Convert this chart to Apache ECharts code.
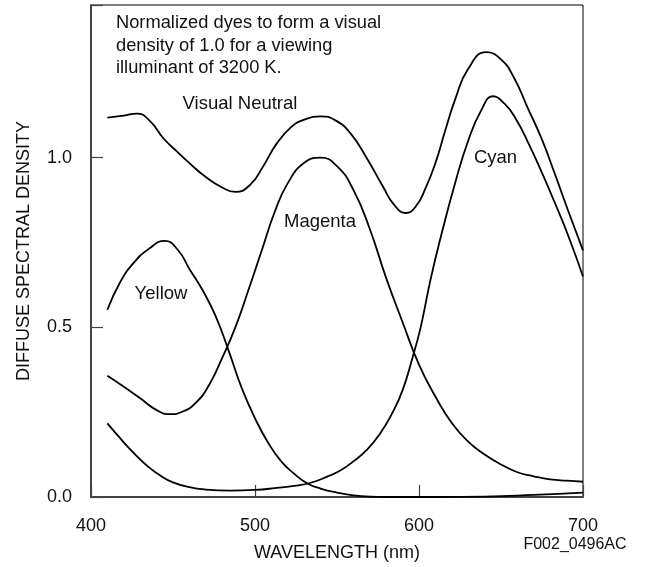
<!DOCTYPE html>
<html>
<head>
<meta charset="utf-8">
<script src="https://cdn.jsdelivr.net/npm/echarts@6/dist/echarts.min.js"></script>
<style>
html,body{margin:0;padding:0;background:#fff;}
#chart{width:646px;height:567px;}
</style>
</head>
<body>
<div id="chart"></div>
<script>
// ---- Data (wavelength in nm, diffuse spectral density) ----
var xTicks = [400, 500, 600, 700];
var yTicks = [0.0, 0.5, 1.0];

var neutralNm  = [410, 420, 428, 436, 444, 452, 460, 470, 480, 488, 497, 505, 513, 522, 530, 540, 549, 558, 568, 578, 585, 592, 598, 604, 610, 616, 622, 630, 641, 650, 658, 666, 675, 683, 691, 700];
var neutralVal = [1.118, 1.124, 1.13, 1.108, 1.058, 1.02, 0.984, 0.943, 0.912, 0.899, 0.92, 0.975, 1.04, 1.09, 1.112, 1.122, 1.11, 1.073, 1.0, 0.915, 0.86, 0.837, 0.856, 0.91, 0.984, 1.08, 1.171, 1.262, 1.311, 1.29, 1.235, 1.15, 1.053, 0.95, 0.843, 0.727];

var magentaNm  = [410, 420, 430, 440, 448, 456, 464, 472, 480, 488, 496, 504, 512, 520, 530, 540, 550, 560, 570, 580, 590, 600, 610, 620, 630, 640, 650, 660, 670, 680, 690, 700];
var magentaVal = [0.357, 0.325, 0.291, 0.256, 0.244, 0.252, 0.278, 0.33, 0.41, 0.5, 0.61, 0.725, 0.84, 0.925, 0.985, 1.0, 0.975, 0.905, 0.79, 0.645, 0.515, 0.39, 0.296, 0.218, 0.163, 0.125, 0.096, 0.073, 0.061, 0.052, 0.048, 0.045];

var yellowNm  = [410, 418, 426, 435, 445, 453, 460, 468, 476, 484, 492, 500, 508, 516, 524, 532, 540, 550, 560, 570, 580, 610, 640, 670, 700];
var yellowVal = [0.552, 0.635, 0.69, 0.73, 0.755, 0.728, 0.672, 0.61, 0.533, 0.43, 0.32, 0.232, 0.16, 0.105, 0.068, 0.04, 0.025, 0.013, 0.005, 0.001, 0.0, 0.0, 0.001, 0.006, 0.013];

var cyanNm  = [410, 418, 426, 434, 442, 450, 460, 470, 485, 500, 512, 524, 534, 544, 552, 560, 568, 576, 584, 590, 596, 601, 607, 614, 622, 630, 638, 645, 652, 659, 667, 675, 683, 691, 700];
var cyanVal = [0.217, 0.172, 0.13, 0.093, 0.064, 0.043, 0.029, 0.022, 0.019, 0.021, 0.026, 0.033, 0.042, 0.06, 0.078, 0.105, 0.138, 0.185, 0.25, 0.315, 0.41, 0.5, 0.64, 0.78, 0.925, 1.05, 1.14, 1.181, 1.16, 1.115, 1.04, 0.955, 0.865, 0.77, 0.65];

var noteText = 'Normalized dyes to form a visual\ndensity of 1.0 for a viewing\nilluminant of 3200 K.';
var curveLabels = ['Visual Neutral', 'Magenta', 'Cyan', 'Yellow'];
var figureId = 'F002_0496AC';
var xName = 'WAVELENGTH (nm)';
var yName = 'DIFFUSE SPECTRAL DENSITY';

function pairs(xs, ys) { return xs.map(function (x, i) { return [x, ys[i]]; }); }

var FONT = '"Liberation Sans", Arial, Helvetica, sans-serif';
var chart = echarts.init(document.getElementById('chart'));

function lineSeries(name, xs, ys) {
  return {
    name: name, type: 'line', data: pairs(xs, ys), showSymbol: false, symbol: 'none',
    smooth: 0.5, lineStyle: { color: '#000', width: 1.8 }, silent: true
  };
}

var option = {
  backgroundColor: '#fff',
  animation: false,
  grid: { left: 91, right: 63, top: 5, bottom: 70, show: true, borderColor: '#000', borderWidth: 1 },
  xAxis: {
    type: 'value', min: 400, max: 700, interval: 100,
    name: xName, nameLocation: 'middle', nameGap: 47,
    nameTextStyle: { fontFamily: FONT, fontSize: 18, color: '#111' },
    axisLine: { show: true, lineStyle: { color: '#444', width: 2 } },
    axisTick: { show: true, inside: true, length: 12, lineStyle: { color: '#444', width: 1.2 } },
    axisLabel: { margin: 20, fontFamily: FONT, fontSize: 18, color: '#111',
      formatter: function (v) { return xTicks.indexOf(v) >= 0 ? String(v) : ''; } },
    splitLine: { show: false }
  },
  yAxis: {
    type: 'value', min: 0, max: 1.45, interval: 0.5,
    name: yName, nameLocation: 'middle', nameGap: 58, nameRotate: 90,
    nameTextStyle: { fontFamily: FONT, fontSize: 18, color: '#111' },
    axisLine: { show: true, lineStyle: { color: '#444', width: 2 } },
    axisTick: { show: true, inside: true, length: 12, lineStyle: { color: '#444', width: 1.2 } },
    axisLabel: { margin: 19, fontFamily: FONT, fontSize: 18, color: '#111',
      formatter: function (v) {
        for (var i = 0; i < yTicks.length; i++) { if (Math.abs(v - yTicks[i]) < 1e-6) return yTicks[i].toFixed(1); }
        return '';
      } },
    splitLine: { show: false }
  },
  series: [
    lineSeries('Visual Neutral', neutralNm, neutralVal),
    lineSeries('Magenta', magentaNm, magentaVal),
    lineSeries('Yellow', yellowNm, yellowVal),
    lineSeries('Cyan', cyanNm, cyanVal)
  ],
  graphic: [
    { type: 'text', left: 116, top: 12, style: { text: noteText, font: '18.3px ' + FONT, fill: '#111', lineHeight: 22.5 } },
    { type: 'text', x: 240, y: 104, style: { text: curveLabels[0], font: '18.5px ' + FONT, fill: '#111', align: 'center', verticalAlign: 'middle' } },
    { type: 'text', x: 320, y: 222, style: { text: curveLabels[1], font: '18.5px ' + FONT, fill: '#111', align: 'center', verticalAlign: 'middle' } },
    { type: 'text', x: 495.5, y: 158, style: { text: curveLabels[2], font: '18.5px ' + FONT, fill: '#111', align: 'center', verticalAlign: 'middle' } },
    { type: 'text', x: 161, y: 294, style: { text: curveLabels[3], font: '18.5px ' + FONT, fill: '#111', align: 'center', verticalAlign: 'middle' } },
    { type: 'text', x: 575, y: 545, style: { text: figureId, font: '16px ' + FONT, fill: '#111', align: 'center', verticalAlign: 'middle' } }
  ]
};
chart.setOption(option);
</script>
</body>
</html>
